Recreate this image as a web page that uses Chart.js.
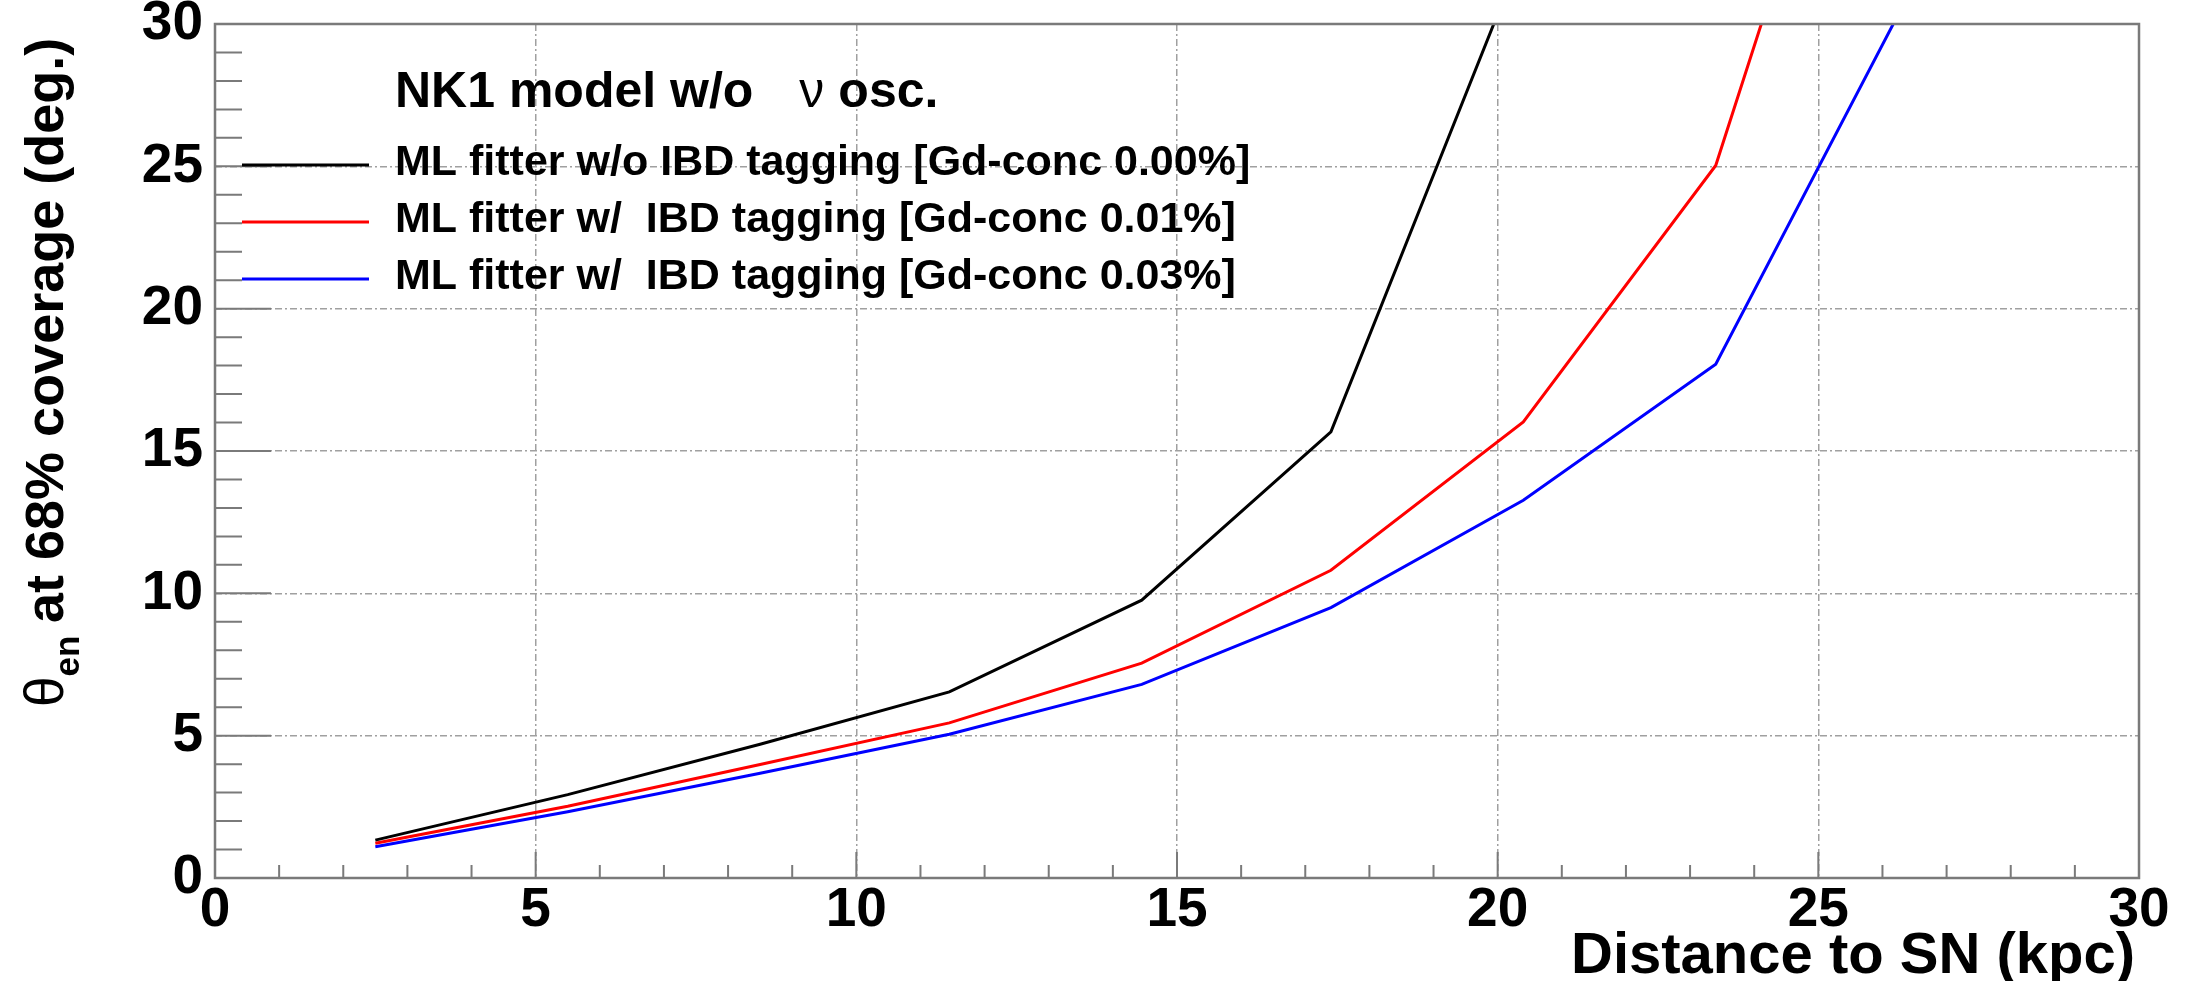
<!DOCTYPE html>
<html>
<head>
<meta charset="utf-8">
<script src="https://cdn.jsdelivr.net/npm/chart.js@4.4.1/dist/chart.umd.min.js"></script>
<style>
  html, body { margin: 0; padding: 0; background: #fff; }
  #chart { display: block; }
</style>
</head>
<body>
<canvas id="chart" width="2187" height="981"></canvas>
<script>
// values
const distances = [2.5, 5.5, 8.5, 11.45, 14.45, 17.4, 20.4, 23.4, 26.4];
const noTagging = [1.33, 2.93, 4.7, 6.54, 9.76, 15.67, 32.6, null, null];
const gd001 = [1.22, 2.52, 3.99, 5.45, 7.55, 10.81, 16.02, 25.03, 46];
const gd003 = [1.1, 2.33, 3.68, 5.05, 6.8, 9.5, 13.27, 18.05, 31.0];

const seriesLabels = [
    'ML fitter w/o IBD tagging [Gd-conc 0.00%]',
    'ML fitter w/  IBD tagging [Gd-conc 0.01%]',
    'ML fitter w/  IBD tagging [Gd-conc 0.03%]'
];
const seriesColors = ['#000000', '#ff0000', '#0000ff'];
const xTicks = [0, 5, 10, 15, 20, 25, 30];
const yTicks = [0, 5, 10, 15, 20, 25, 30];

const FONT = '"Liberation Sans", Arial, Helvetica, sans-serif';
const AXIS_GREY = '#7a7a7a';

function toPoints(ys) {
    return distances.map((x, i) => ({ x: x, y: ys[i] }));
}

// frame, inward ticks, legend and axis titles (ROOT look)
const rootStyle = {
    id: 'rootStyle',
    afterDatasetsDraw(chart) {
        const ctx = chart.ctx;
        const area = chart.chartArea;
        const xs = chart.scales.x;
        const ys = chart.scales.y;
        ctx.save();

        // frame
        ctx.strokeStyle = AXIS_GREY;
        ctx.lineWidth = 2.5;
        ctx.strokeRect(area.left, area.top, area.right - area.left, area.bottom - area.top);

        // ticks pointing into the frame
        ctx.lineWidth = 2;
        ctx.beginPath();
        for (let v = 0; v <= 30; v++) {
            const py = ys.getPixelForValue(v);
            const len = v % 5 === 0 ? 56 : 27;
            ctx.moveTo(area.left, py);
            ctx.lineTo(area.left + len, py);
            const px = xs.getPixelForValue(v);
            const lenX = v % 5 === 0 ? 26 : 13;
            ctx.moveTo(px, area.bottom);
            ctx.lineTo(px, area.bottom - lenX);
        }
        ctx.stroke();

        // legend
        ctx.fillStyle = '#000';
        ctx.textBaseline = 'alphabetic';
        ctx.textAlign = 'left';
        const textX = 395;
        ctx.font = 'bold 50px ' + FONT;
        const pre = 'NK1 model w/o';
        ctx.fillText(pre, textX, 107);
        const nuX = textX + ctx.measureText(pre).width + 46;
        ctx.font = '50px ' + FONT;
        ctx.fillText('\u03BD', nuX, 107);
        const oscX = nuX + ctx.measureText('\u03BD').width + 14;
        ctx.font = 'bold 50px ' + FONT;
        ctx.fillText('osc.', oscX, 107);

        const rowY = [165, 222, 279];
        ctx.font = 'bold 43px ' + FONT;
        chart.data.datasets.forEach((ds, i) => {
            ctx.strokeStyle = ds.borderColor;
            ctx.lineWidth = 3;
            ctx.beginPath();
            ctx.moveTo(242, rowY[i]);
            ctx.lineTo(369, rowY[i]);
            ctx.stroke();
            ctx.fillText(ds.label, textX, rowY[i] + 10);
        });

        // x title
        ctx.font = 'bold 58px ' + FONT;
        ctx.textAlign = 'right';
        ctx.fillText('Distance to SN (kpc)', area.right - 4, 973);

        // y title, rotated
        ctx.translate(63, 707);
        ctx.rotate(-Math.PI / 2);
        ctx.textAlign = 'left';
        ctx.font = '55px ' + FONT;
        ctx.fillText('\u03B8', 0, 0);
        const thW = ctx.measureText('\u03B8').width;
        ctx.font = 'bold 35px ' + FONT;
        ctx.fillText('en', thW, 16);
        ctx.font = 'bold 54px ' + FONT;
        ctx.fillText('at 68% coverage (deg.)', 84, 0);

        ctx.restore();
    }
};

const gridStyle = {
    drawTicks: false,
    color: '#a0a0a0',
    lineWidth: 1.5
};

new Chart(document.getElementById('chart'), {
    type: 'line',
    data: {
        datasets: [
            { label: seriesLabels[0], data: toPoints(noTagging), borderColor: seriesColors[0] },
            { label: seriesLabels[1], data: toPoints(gd001), borderColor: seriesColors[1] },
            { label: seriesLabels[2], data: toPoints(gd003), borderColor: seriesColors[2] }
        ].map(ds => Object.assign(ds, {
            borderWidth: 3,
            pointRadius: 0,
            tension: 0,
            fill: false,
            spanGaps: false
        }))
    },
    options: {
        responsive: false,
        animation: false,
        devicePixelRatio: 1,
        layout: { padding: { left: 0, top: 24, right: 48, bottom: 0 } },
        plugins: {
            legend: { display: false },
            tooltip: { enabled: false }
        },
        scales: {
            x: {
                type: 'linear',
                min: 0,
                max: 30,
                afterBuildTicks(scale) {
                    scale.ticks = xTicks.map(v => ({ value: v }));
                },
                afterFit(scale) {
                    scale.height = 103;
                    scale.paddingLeft = 0;
                    scale.paddingRight = 0;
                },
                border: { display: false, dash: [7, 3, 2, 3] },
                grid: gridStyle,
                ticks: {
                    padding: 0,
                    maxRotation: 0,
                    autoSkip: false,
                    color: '#000',
                    font: { family: FONT, size: 55, weight: 'bold', lineHeight: 1.2 },
                    callback: v => String(v)
                }
            },
            y: {
                type: 'linear',
                min: 0,
                max: 30,
                afterBuildTicks(scale) {
                    scale.ticks = yTicks.map(v => ({ value: v }));
                },
                afterFit(scale) {
                    scale.width = 215;
                    scale.paddingTop = 0;
                    scale.paddingBottom = 0;
                },
                border: { display: false, dash: [7, 3, 2, 3] },
                grid: gridStyle,
                ticks: {
                    padding: 12,
                    autoSkip: false,
                    color: '#000',
                    font: { family: FONT, size: 55, weight: 'bold', lineHeight: 1.2 },
                    callback: v => String(v)
                }
            }
        }
    },
    plugins: [rootStyle]
});
</script>
</body>
</html>
